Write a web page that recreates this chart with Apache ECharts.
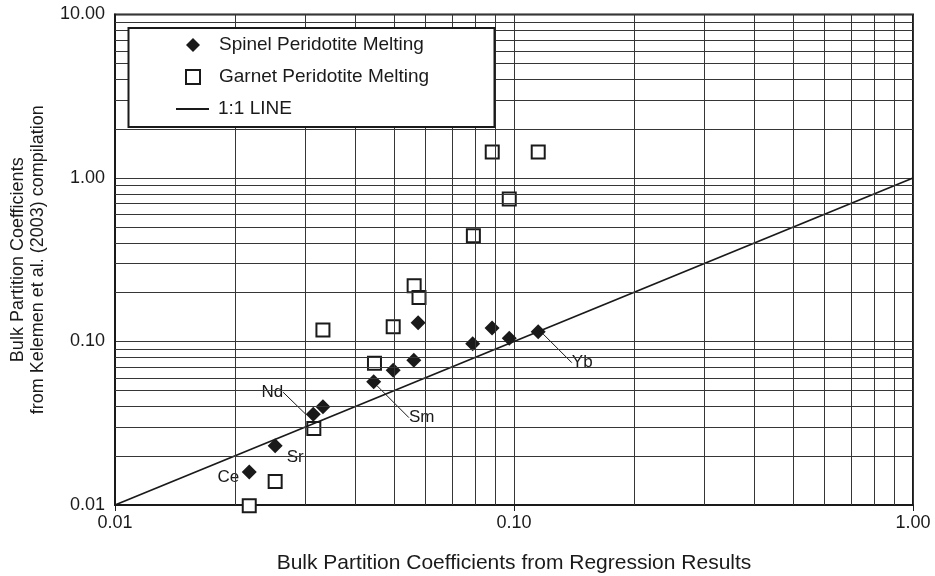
<!DOCTYPE html>
<html>
<head>
<meta charset="utf-8">
<script src="https://cdn.jsdelivr.net/npm/echarts@6/dist/echarts.min.js"></script>
<style>
  html, body { margin: 0; padding: 0; background: #fff; }
  #chart { width: 935px; height: 576px; }
</style>
</head>
<body>
<div id="chart"></div>
<script>
// Bulk partition coefficients: regression results vs. Kelemen et al. (2003)
const spinelX = [0.0217, 0.0252, 0.0314, 0.0332, 0.0445, 0.0498, 0.0561, 0.0575, 0.0788, 0.0881, 0.0973, 0.115];
const spinelY = [0.0159, 0.0230, 0.0359, 0.0399, 0.0568, 0.0666, 0.0767, 0.130, 0.097, 0.121, 0.1046, 0.1148];
const spinelNames = ['Ce', 'Sr', 'Nd', '', 'Sm', '', '', '', '', '', '', 'Yb'];

const garnetX = [0.0217, 0.0252, 0.0315, 0.0332, 0.0447, 0.0498, 0.0562, 0.0578, 0.0791, 0.0882, 0.0973, 0.115];
const garnetY = [0.0099, 0.0139, 0.0294, 0.1175, 0.0736, 0.123, 0.219, 0.186, 0.444, 1.44, 0.744, 1.44];

const oneToOneX = [0.01, 1];
const oneToOneY = [0.01, 1];

// intermediate log-grid positions (2..9 within each decade)
const xMinorGrid = [0.02, 0.03, 0.04, 0.05, 0.06, 0.07, 0.08, 0.09,
                    0.2, 0.3, 0.4, 0.5, 0.6, 0.7, 0.8, 0.9];
const yMinorGrid = [0.02, 0.03, 0.04, 0.05, 0.06, 0.07, 0.08, 0.09,
                    0.2, 0.3, 0.4, 0.5, 0.6, 0.7, 0.8, 0.9,
                    2, 3, 4, 5, 6, 7, 8, 9];

const seriesNames = ['Spinel Peridotite Melting', 'Garnet Peridotite Melting', '1:1 LINE'];

// label offsets (px) from each annotated diamond
const labelShift = {
  Ce: [-21, 4],
  Sr: [20, 10],
  Nd: [-41, -23],
  Sm: [48, 35],
  Yb: [44, 30]
};
const withLeader = { Nd: true, Sm: true, Yb: true };

const FONT = 'Liberation Sans, Arial, sans-serif';
const INK = '#1a1a1a';
const GRID = '#363636';

const chart = echarts.init(document.getElementById('chart'), null, { renderer: 'canvas' });

const spinelData = spinelX.map((x, i) => {
  const nm = spinelNames[i];
  const item = { value: [x, spinelY[i]], name: nm };
  if (nm) {
    item.label = { show: true };
    item.labelLine = { show: !!withLeader[nm] };
  }
  return item;
});
const garnetData = garnetX.map((x, i) => [x, garnetY[i]]);

const legendText = { fontSize: 19, color: INK, lineHeight: 20, fontFamily: FONT };

const option = {
  backgroundColor: '#fff',
  animation: false,
  textStyle: { fontFamily: FONT },
  grid: {
    left: 115, right: 22, top: 14.5, bottom: 71,
    outerBoundsMode: 'none',
    containLabel: false,
    show: true, borderColor: INK, borderWidth: 2, backgroundColor: 'transparent'
  },
  xAxis: {
    type: 'log', logBase: 10, min: 0.01, max: 1, interval: 1,
    name: 'Bulk Partition Coefficients from Regression Results',
    nameLocation: 'middle', nameGap: 48,
    nameTextStyle: { fontSize: 21, color: INK, fontFamily: FONT },
    axisLine: { show: true, lineStyle: { color: INK, width: 2 } },
    axisTick: { show: true, length: 6, lineStyle: { color: INK, width: 1 } },
    axisLabel: { fontSize: 18, color: INK, margin: 9, fontFamily: FONT,
                 formatter: v => Number(v).toFixed(2) },
    splitLine: { show: true, lineStyle: { color: GRID, width: 1 } },
    minorTick: { show: false }, minorSplitLine: { show: false }
  },
  yAxis: {
    type: 'log', logBase: 10, min: 0.01, max: 10, interval: 1,
    name: 'Bulk Partition Coefficients\nfrom Kelemen et al. (2003) compilation',
    nameLocation: 'middle', nameRotate: 90, nameGap: 67,
    nameTextStyle: { fontSize: 18, color: INK, lineHeight: 20, fontFamily: FONT },
    axisLine: { show: true, lineStyle: { color: INK, width: 2 } },
    axisTick: { show: false },
    axisLabel: { fontSize: 18, color: INK, margin: 10, fontFamily: FONT,
                 formatter: v => Number(v).toFixed(2) },
    splitLine: { show: true, lineStyle: { color: GRID, width: 1 } },
    minorTick: { show: false }, minorSplitLine: { show: false }
  },
  legend: [
    {
      // marker entries
      orient: 'vertical',
      left: 185, top: 35,
      padding: 0,
      itemWidth: 14, itemHeight: 14, itemGap: 12,
      data: [
        { name: seriesNames[0], icon: 'diamond' },
        { name: seriesNames[1], icon: 'rect' }
      ],
      z: 10,
      textStyle: Object.assign({ padding: [0, 0, 0, 14] }, legendText)
    },
    {
      // 1:1 line entry
      orient: 'vertical',
      left: 176, top: 99,
      padding: 0,
      itemWidth: 33, itemHeight: 2,
      data: [{ name: seriesNames[2], icon: 'rect', itemStyle: { color: INK, borderWidth: 0 } }],
      z: 10,
      textStyle: Object.assign({ padding: [0, 0, 0, 4] }, legendText)
    }
  ],
  graphic: [{
    type: 'rect',
    z: 9,
    shape: { x: 128.5, y: 28, width: 366, height: 99 },
    style: { fill: '#fff', stroke: INK, lineWidth: 2 }
  }],
  series: [
    {
      // log grid lines between the decades
      name: 'grid',
      type: 'scatter',
      data: [],
      silent: true,
      markLine: {
        silent: true, symbol: 'none', animation: false,
        label: { show: false },
        lineStyle: { color: GRID, width: 1, type: 'solid' },
        data: xMinorGrid.map(v => ({ xAxis: v })).concat(yMinorGrid.map(v => ({ yAxis: v })))
      }
    },
    {
      name: seriesNames[2],
      type: 'line',
      data: oneToOneX.map((x, i) => [x, oneToOneY[i]]),
      showSymbol: false, symbol: 'none',
      lineStyle: { color: INK, width: 1.8 },
      itemStyle: { color: INK }
    },
    {
      name: seriesNames[0],
      type: 'scatter',
      symbol: 'diamond', symbolSize: 15,
      clip: false,
      itemStyle: { color: INK, borderWidth: 0, opacity: 1 },
      label: {
        show: false, position: 'inside', fontSize: 17, color: INK, fontFamily: FONT,
        textBorderWidth: 0, formatter: p => p.name
      },
      labelLine: { show: false, lineStyle: { color: INK, width: 1 } },
      labelLayout: p => {
        const s = labelShift[p.text];
        return s ? { dx: s[0], dy: s[1] + 1 } : {};
      },
      data: spinelData
    },
    {
      name: seriesNames[1],
      type: 'scatter',
      symbol: 'rect', symbolSize: 13,
      clip: false,
      itemStyle: { color: '#fff', borderColor: INK, borderWidth: 2, opacity: 1 },
      data: garnetData
    }
  ]
};

chart.setOption(option);
</script>
</body>
</html>
